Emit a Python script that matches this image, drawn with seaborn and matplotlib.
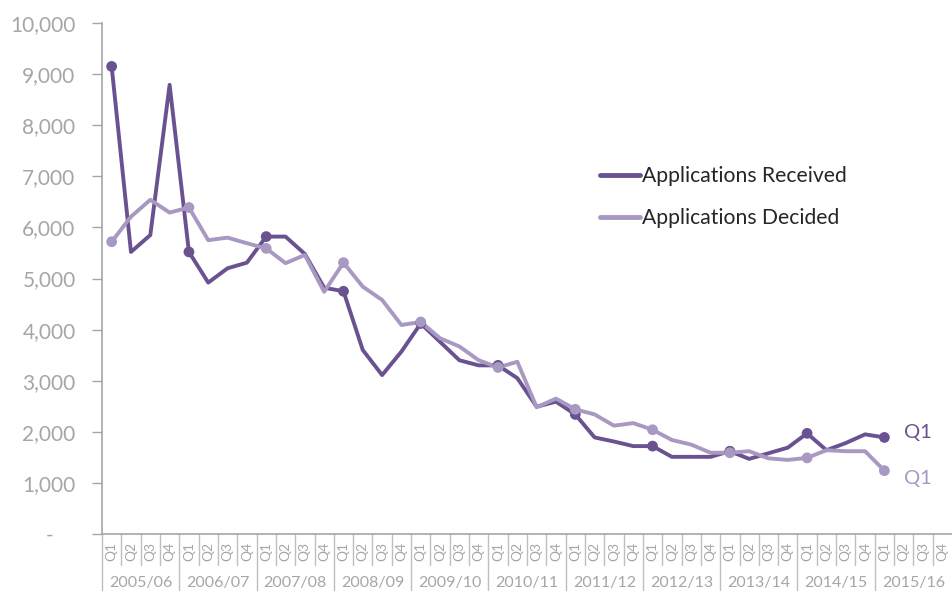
import numpy as np
import pandas as pd
import matplotlib
matplotlib.use("Agg")
import matplotlib.pyplot as plt
import matplotlib.transforms as mtransforms
from matplotlib.lines import Line2D
import seaborn as sns

years = ["2005/06", "2006/07", "2007/08", "2008/09", "2009/10", "2010/11",
         "2011/12", "2012/13", "2013/14", "2014/15", "2015/16"]
quarters = ["Q1", "Q2", "Q3", "Q4"]

received = [9150, 5520, 5850, 8790,
            5520, 4920, 5200, 5310,
            5820, 5820, 5480, 4820,
            4750, 3600, 3110, 3570,
            4120, 3760, 3400, 3300,
            3300, 3050, 2490, 2590,
            2340, 1890, 1810, 1720,
            1720, 1510, 1510, 1510,
            1620, 1470, 1580, 1690,
            1970, 1640, 1780, 1950,
            1890]
decided = [5720, 6210, 6540, 6290,
           6390, 5750, 5800, 5690,
           5590, 5300, 5460, 4740,
           5310, 4840, 4580, 4090,
           4150, 3830, 3670, 3400,
           3260, 3370, 2480, 2650,
           2440, 2340, 2120, 2170,
           2040, 1840, 1750, 1590,
           1590, 1620, 1480, 1450,
           1490, 1640, 1620, 1620,
           1240]

DARK = "#6A5291"
LIGHT = "#A898C2"
GREY = "#A6A6A6"

n = len(received)
df = pd.DataFrame({
    "idx": list(range(n)) * 2,
    "value": received + decided,
    "series": ["Applications Received"] * n + ["Applications Decided"] * n,
})
df["quarter"] = df["idx"] % 4
q1 = df[df["quarter"] == 0]

sns.set_style("white")
plt.rcParams["font.family"] = ["Lato", "DejaVu Sans"]

fig = plt.figure(figsize=(9.52, 5.91), dpi=100)
ax = fig.add_axes([102 / 952, (591 - 534) / 591, 1 - 102 / 952, (534 - 23) / 591])

pal = {"Applications Received": DARK, "Applications Decided": LIGHT}
sns.lineplot(data=df, x="idx", y="value", hue="series", palette=pal,
             linewidth=2.8, ax=ax, legend=False, sort=False)
sns.scatterplot(data=q1, x="idx", y="value", hue="series", palette=pal,
                s=60, edgecolor="none", ax=ax, legend=False, zorder=3)

ax.set_xlim(-0.5, 43.5)
ax.set_ylim(0, 10000)
ax.set_xlabel("")
ax.set_ylabel("")

# y axis
yt = np.arange(0, 10001, 1000)
ax.set_yticks(yt)
ax.set_yticklabels(["-    "] + [f"{v:,}" for v in yt[1:]], color=GREY, fontsize=15)
ax.tick_params(axis="y", length=7, width=1, color=GREY, pad=12, left=True)

# x axis: quarters
ax.set_xticks(range(44))
ax.set_xticklabels(quarters * 11, rotation=90, color=GREY, fontsize=10)
ax.tick_params(axis="x", length=0, pad=6)

for side in ["top", "right"]:
    ax.spines[side].set_visible(False)
for side in ["left", "bottom"]:
    ax.spines[side].set_color(GREY)
    ax.spines[side].set_linewidth(1.2)

trans = mtransforms.blended_transform_factory(ax.transData, ax.transAxes)
ax_h = 534 - 23
for i in range(44):
    x = i - 0.5
    if i % 4 == 0:
        y1 = -(591 - 534) / ax_h
    else:
        y1 = -(565 - 534) / ax_h
    ax.add_line(Line2D([x, x], [0, y1], transform=trans, color="#BFBFBF",
                       linewidth=1, clip_on=False))

for k, yr in enumerate(years):
    ax.text(4 * k + 1.5, -(583 - 534) / ax_h, yr, transform=trans,
            ha="center", va="center", color=GREY, fontsize=11.5)

# end labels
ax.text(41.0, received[-1] + 100, "Q1", color=DARK, fontsize=14.5,
        ha="left", va="center")
ax.text(41.0, decided[-1] - 150, "Q1", color=LIGHT, fontsize=14.5,
        ha="left", va="center")

handles = [Line2D([], [], color=DARK, linewidth=3.5),
           Line2D([], [], color=LIGHT, linewidth=3.5)]
fig.legend(handles, ["Applications Received", "Applications Decided"],
           loc="center left", bbox_to_anchor=(600 / 952, (591 - 197) / 591),
           frameon=False, fontsize=15.2, handlelength=1.9, handletextpad=0.1,
           labelspacing=1.05, borderpad=0, borderaxespad=0)

fig.savefig("out.png", dpi=100)
